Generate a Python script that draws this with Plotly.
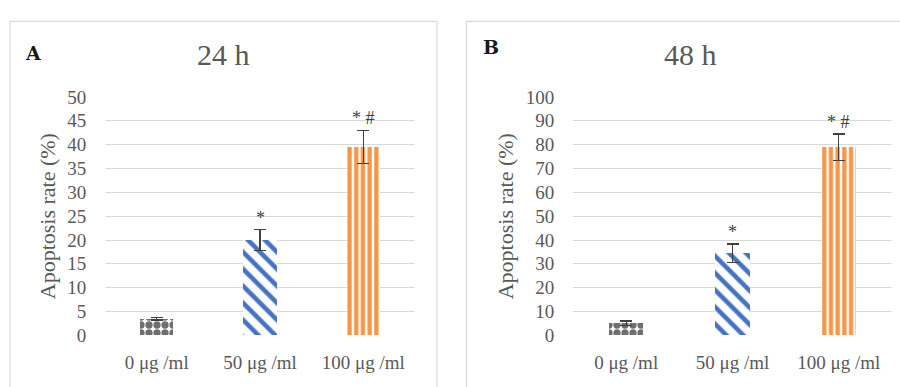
import plotly.graph_objects as go

categories = ["0 μg /ml", "50 μg /ml", "100 μg /ml"]
rate_24h = [3.5, 20.0, 39.5]
err_24h = [0.3, 2.2, 3.5]
rate_48h = [5.0, 34.5, 79.0]
err_48h = [1.0, 3.8, 5.5]
marks_24h = ["", "*", "* #"]
marks_48h = ["", "*", "* #"]
yticks_24h = [0, 5, 10, 15, 20, 25, 30, 35, 40, 45, 50]
yticks_48h = [0, 10, 20, 30, 40, 50, 60, 70, 80, 90, 100]

W, H = 900, 387
FONT = "Liberation Serif"
GREY = "#595959"

bar_styles = [
    dict(shape=".", fgcolor="#6f6f6f", size=8, solidity=0.65),
    dict(shape="\\", fgcolor="#4472c4", size=12, solidity=0.38),
    dict(shape="|", fgcolor="#f79646", size=6.7, solidity=0.64),
]

fig = go.Figure()


def add_panel(vals, errs, xa, ya):
    for i, (c, v, e) in enumerate(zip(categories, vals, errs)):
        st = bar_styles[i]
        fig.add_trace(go.Bar(
            x=[c], y=[v], xaxis=xa, yaxis=ya, width=0.32,
            marker=dict(color=st["fgcolor"], line=dict(width=0),
                        pattern=dict(shape=st["shape"], fgcolor=st["fgcolor"],
                                     bgcolor="white", size=st["size"],
                                     solidity=st["solidity"], fillmode="replace")),
            error_y=dict(type="data", array=[e], visible=True, color="#404040",
                         thickness=1.2, width=6),
            showlegend=False, hoverinfo="skip",
        ))


add_panel(rate_24h, err_24h, "x", "y")
add_panel(rate_48h, err_48h, "x2", "y2")

ydom = [(H - 344) / H, (H - 92) / H]
TICKFONT = dict(family=FONT, size=19, color=GREY)
TITLEFONT = dict(family=FONT, size=22, color=GREY)

xcommon = dict(type="category", showgrid=False, showline=False, zeroline=False,
               ticks="outside", ticklen=10, tickcolor="rgba(0,0,0,0)",
               tickfont=TICKFONT)
ycommon = dict(showgrid=True, gridcolor="#d9d9d9", gridwidth=1, showline=False,
               zeroline=False, ticks="outside", ticklen=14,
               tickcolor="rgba(0,0,0,0)", tickfont=TICKFONT,
               title=dict(text="Apoptosis rate (%)", standoff=5, font=TITLEFONT))

fig.update_layout(
    width=W, height=H, margin=dict(l=0, r=0, t=0, b=0),
    paper_bgcolor="white", plot_bgcolor="white",
    bargap=0,
    xaxis=dict(domain=[105 / W, 415 / W], anchor="y", **xcommon),
    yaxis=dict(domain=ydom, range=[0, 50], tickvals=yticks_24h, anchor="x", **ycommon),
    xaxis2=dict(domain=[573 / W, 892 / W], anchor="y2", **xcommon),
    yaxis2=dict(domain=ydom, range=[0, 100], tickvals=yticks_48h, anchor="x2", **ycommon),
)

# panel borders
fig.add_shape(type="rect", xref="paper", yref="paper",
              x0=10 / W, x1=437 / W, y0=-0.1, y1=(H - 12) / H,
              line=dict(color="#d9d9d9", width=1.2), layer="below")
fig.add_shape(type="rect", xref="paper", yref="paper",
              x0=466.5 / W, x1=1.05, y0=-0.1, y1=(H - 12) / H,
              line=dict(color="#d9d9d9", width=1.2), layer="below")

# panel titles and letters
for txt, x in [("24 h", 223.5), ("48 h", 690)]:
    fig.add_annotation(text=txt, xref="paper", yref="paper", x=x / W, y=(H - 47) / H,
                       showarrow=False, font=dict(family=FONT, size=30, color=GREY),
                       xanchor="center", yanchor="middle")
for txt, x, y in [("A", 33, 45), ("B", 491, 39)]:
    fig.add_annotation(text="<b>%s</b>" % txt, xref="paper", yref="paper", x=x / W,
                       y=(H - y) / H, showarrow=False,
                       font=dict(family="DejaVu Serif", size=19, color="#1a1a1a"),
                       xanchor="center", yanchor="middle")

# significance marks
for vals, errs, marks, xa, ya in [(rate_24h, err_24h, marks_24h, "x", "y"),
                                  (rate_48h, err_48h, marks_48h, "x2", "y2")]:
    for c, v, e, m in zip(categories, vals, errs, marks):
        if m:
            fig.add_annotation(text=m, x=c, y=v + e, xref=xa, yref=ya,
                               showarrow=False, yanchor="bottom", yshift=0,
                               font=dict(family=FONT, size=18, color="#404040"))

fig.write_html("out.html", config={"displayModeBar": False, "staticPlot": True},
               post_script="document.body.style.margin='0';document.body.style.overflow='hidden';")
